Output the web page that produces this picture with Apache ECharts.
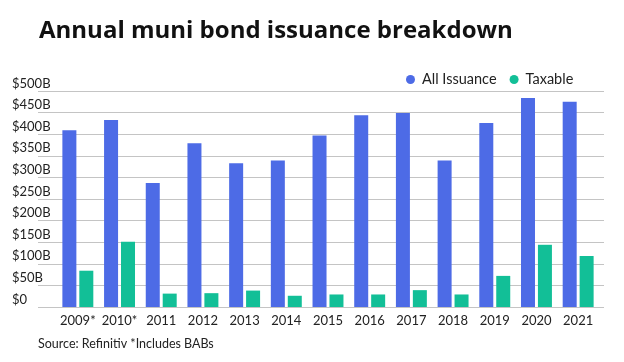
<!DOCTYPE html>
<html>
<head>
<meta charset="utf-8">
<script src="https://cdn.jsdelivr.net/npm/echarts@6/dist/echarts.min.js"></script>
<style>html,body{margin:0;padding:0;background:#fff;}#c{width:624px;height:362px;}</style>
</head>
<body>
<div id="c"></div>
<script>
const categories = ['2009*','2010*','2011','2012','2013','2014','2015','2016','2017','2018','2019','2020','2021'];
const allIssuance = [409,433,287,379,333,339,397,444,449,339,426,484,475];
const taxable = [84,151,31,32,38,26,29,29,39,29,72,144,118];
const yTicks = {min:0, max:500, interval:50};

const FONT = 'Lato';
const chart = echarts.init(document.getElementById('c'));
chart.setOption({
  animation:false,
  backgroundColor:'#fff',
  textStyle:{fontFamily:FONT},
  title:{
    text:'Annual muni bond issuance breakdown',
    left:34, top:14,
    textStyle:{fontFamily:'Open Sans', fontWeight:'bold', fontSize:24, color:'#111'}
  },
  legend:{
    left:401, top:67,
    icon:'circle', itemWidth:9, itemHeight:9, itemGap:13,
    textStyle:{fontFamily:FONT, fontSize:14.5, color:'#222', padding:[0,0,0,2]},
    data:['All Issuance','Taxable']
  },
  graphic:[{
    type:'text', left:38, top:337,
    style:{text:'Source: Refinitiv *Includes BABs', font:'12.5px '+FONT, fill:'#222'}
  }],
  grid:[
    {left:38, right:20, top:91, bottom:55},
    {left:57, right:25, top:91, bottom:55}
  ],
  xAxis:[
    {gridIndex:0, type:'value', show:false, min:0, max:1},
    {gridIndex:1, type:'category', data:categories,
     axisLine:{show:false}, axisTick:{show:false},
     axisLabel:{fontFamily:FONT, fontSize:13, color:'#222', margin:7, interval:0}}
  ],
  yAxis:[
    {gridIndex:0, type:'value', min:yTicks.min, max:yTicks.max, interval:yTicks.interval,
     axisLine:{show:false}, axisTick:{show:false},
     splitLine:{lineStyle:{color:'#c4c4c4', width:1}},
     axisLabel:{fontFamily:FONT, fontSize:13, color:'#222', align:'left', verticalAlign:'bottom',
       margin:26, padding:[0,0,1,0], formatter:v => '$' + v + (v===0?'':'B')}},
    {gridIndex:1, type:'value', min:yTicks.min, max:yTicks.max, interval:yTicks.interval, show:false,
     splitLine:{show:false}}
  ],
  series:[
    {name:'All Issuance', type:'bar', xAxisIndex:1, yAxisIndex:1, data:allIssuance,
     barWidth:14, barGap:'21%', itemStyle:{color:'#4d6be6'}},
    {name:'Taxable', type:'bar', xAxisIndex:1, yAxisIndex:1, data:taxable,
     barWidth:14, barGap:'21%', itemStyle:{color:'#12bf97'}}
  ]
});
</script>
</body>
</html>
